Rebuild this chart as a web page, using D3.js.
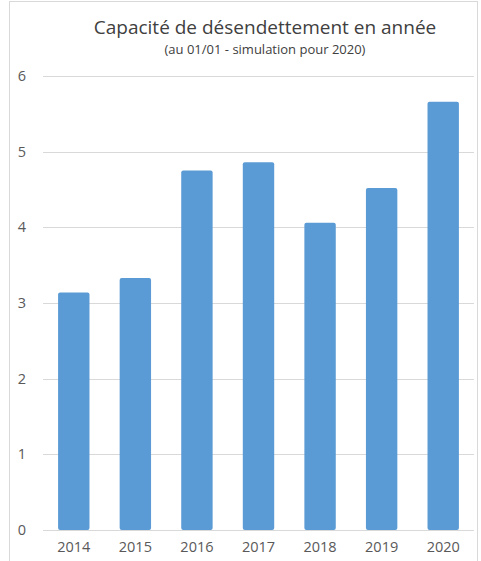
<!DOCTYPE html>
<html lang="fr">
<head>
    <meta charset="UTF-8">
    <title>Capacité de désendettement</title>
    <script src="https://cdn.jsdelivr.net/npm/d3@7"></script>
    <style>
        body { margin: 0; background: #fff; }
        .axis text {
            font-family: "Open Sans", sans-serif;
            font-size: 14.5px;
            fill: #595959;
        }
        .axis path, .axis line { display: none; }
        .grid line { stroke: #d9d9d9; stroke-width: 1; shape-rendering: crispEdges; }
        .grid path { display: none; }
    </style>
</head>
<body>
<script>
	// données
	var years = ["2014", "2015", "2016", "2017", "2018", "2019", "2020"];
	var values = [3.14, 3.33, 4.75, 4.86, 4.06, 4.52, 5.66];
	var yTicks = [0, 1, 2, 3, 4, 5, 6];

	var width = 481;
	var height = 561;
	var svg = d3.select("body")
		.append("svg")
		.attr("width", width)
		.attr("height", height);

	// cadre
	svg.append("rect")
		.attr("x", 9.5)
		.attr("y", 1.5)
		.attr("width", 468)
		.attr("height", 570)
		.attr("fill", "none")
		.attr("stroke", "#d9d9d9");

	var plotLeft = 43, plotRight = 474, plotTop = 76, plotBottom = 530;

	var x = d3.scaleBand()
		.domain(years)
		.range([plotLeft, plotRight])
		.paddingInner(0.49)
		.paddingOuter(0.245);

	var y = d3.scaleLinear()
		.domain([0, 6])
		.range([plotBottom, plotTop]);

	// grille
	svg.append("g")
		.attr("class", "grid")
		.attr("transform", "translate(" + plotLeft + ",0)")
		.call(d3.axisLeft(y).tickValues(yTicks).tickSize(-(plotRight - plotLeft)).tickFormat(""));

	// barres
	svg.selectAll("rect.bar")
		.data(values)
		.enter()
		.append("rect")
		.attr("class", "bar")
		.attr("x", function (d, i) { return x(years[i]); })
		.attr("y", function (d) { return y(d); })
		.attr("width", x.bandwidth())
		.attr("height", function (d) { return plotBottom - y(d); })
		.attr("rx", 2)
		.attr("fill", "#5b9bd5");

	// axes
	svg.append("g")
		.attr("class", "axis")
		.attr("transform", "translate(26,0)")
		.call(d3.axisLeft(y).tickValues(yTicks).tickFormat(d3.format("d")).tickSize(0).tickPadding(0));

	svg.append("g")
		.attr("class", "axis")
		.attr("transform", "translate(0," + (plotBottom + 6) + ")")
		.call(d3.axisBottom(x).tickSize(0).tickPadding(6));

	// titres
	svg.append("text")
		.attr("x", 265)
		.attr("y", 34)
		.attr("text-anchor", "middle")
		.style("font-family", "Open Sans, sans-serif")
		.style("font-size", "19px")
		.style("fill", "#404040")
		.text("Capacité de désendettement en année");

	svg.append("text")
		.attr("x", 265)
		.attr("y", 54)
		.attr("text-anchor", "middle")
		.style("font-family", "Open Sans, sans-serif")
		.style("font-size", "13px")
		.style("fill", "#404040")
		.text("(au 01/01 - simulation pour 2020)");
</script>
</body>
</html>
